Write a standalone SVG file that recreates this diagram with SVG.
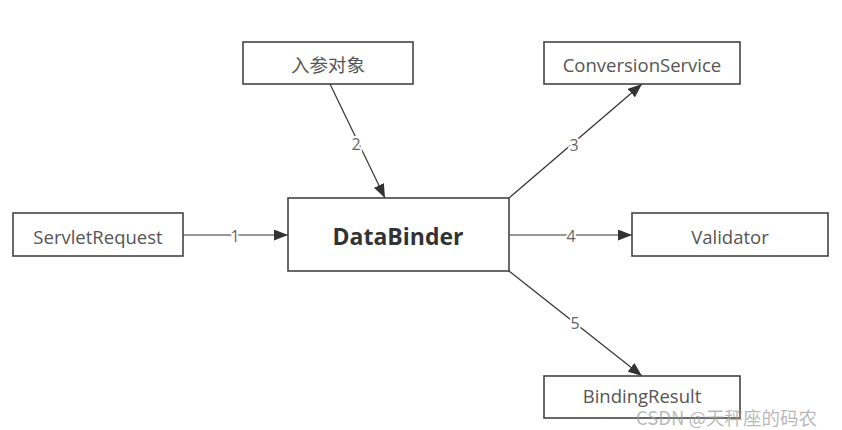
<svg xmlns="http://www.w3.org/2000/svg" width="842" height="430" viewBox="0 0 842 430">
<style>
.box{fill:#fff;stroke:#444;stroke-width:1.6}
.t{font-family:"Open Sans","Noto Sans","Noto Sans CJK SC",sans-serif;font-size:18.5px;fill:#555;text-anchor:middle;dominant-baseline:central}
.b{font-family:"Open Sans","Noto Sans",sans-serif;font-size:23px;font-weight:bold;fill:#333;text-anchor:middle;dominant-baseline:central}
.c{stroke:#333;stroke-width:1.2;fill:none;marker-end:url(#ah)}
.l{font-family:"Open Sans","Noto Sans",sans-serif;font-size:16px;fill:#666;text-anchor:middle;dominant-baseline:central;stroke:#fff;stroke-width:4;paint-order:stroke}
.w{font-family:"Noto Sans CJK SC",sans-serif;font-size:18.5px;fill:#999;fill-opacity:0.7}
</style>
<defs>
<marker id="ah" markerWidth="14" markerHeight="11" refX="14" refY="5.5" orient="auto" markerUnits="userSpaceOnUse">
<path d="M0,0 L14,5.5 L0,11 Z" fill="#333"/>
</marker>
</defs>
<rect width="842" height="430" fill="#fff"/>
<g id="connectors">
<line class="c" x1="183" y1="235" x2="288" y2="235"/>
<line class="c" x1="330" y1="84" x2="385" y2="198"/>
<line class="c" x1="509" y1="198" x2="642" y2="84"/>
<line class="c" x1="509" y1="235" x2="632" y2="235"/>
<line class="c" x1="509" y1="271" x2="642" y2="376"/>
<text class="l" x="235" y="236">1</text>
<text class="l" x="356" y="144">2</text>
<text class="l" x="574" y="145">3</text>
<text class="l" x="571" y="236">4</text>
<text class="l" x="575" y="323">5</text>
</g>
<g id="param"><rect class="box" x="243" y="42" width="170" height="42"/><text class="t" x="328" y="64">入参对象</text></g>
<g id="conversion"><rect class="box" x="544" y="42" width="196" height="42"/><text class="t" x="642" y="64">ConversionService</text></g>
<g id="servlet"><rect class="box" x="13" y="213" width="170" height="43"/><text class="t" x="98" y="236">ServletRequest</text></g>
<g id="databinder"><rect class="box" x="288" y="198" width="221" height="73"/><text class="b" x="398" y="236">DataBinder</text></g>
<g id="validator"><rect class="box" x="632" y="213" width="196" height="43"/><text class="t" x="730" y="236">Validator</text></g>
<g id="binding"><rect class="box" x="544" y="376" width="196" height="42"/><text class="t" x="642" y="395">BindingResult</text></g>
<text class="w" x="636" y="425">CSDN @天秤座的码农</text>
</svg>
